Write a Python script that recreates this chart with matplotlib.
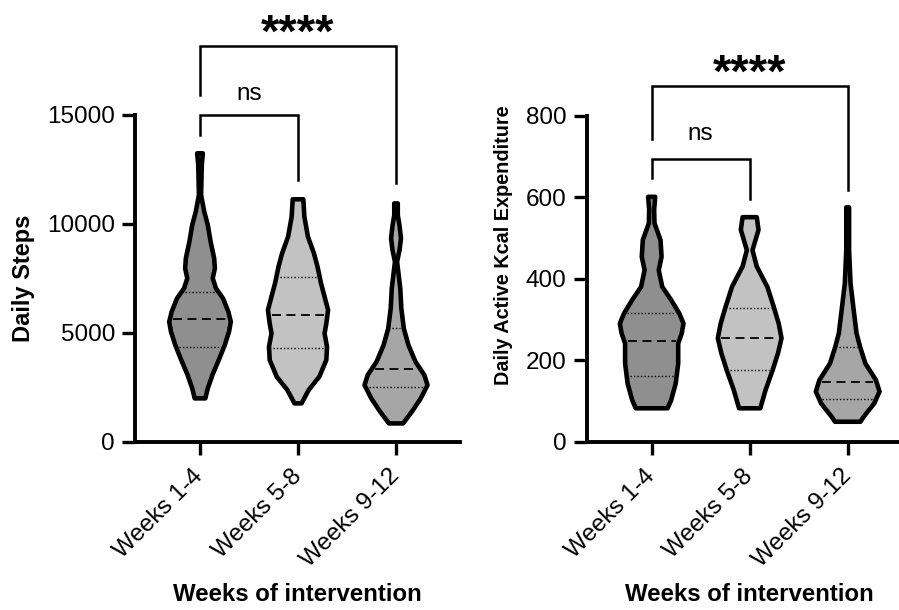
import matplotlib
matplotlib.use("Agg")
import matplotlib.pyplot as plt
import numpy as np

plt.rcParams['font.family'] = ['Liberation Sans', 'DejaVu Sans']

groups = ["Weeks 1-4", "Weeks 5-8", "Weeks 9-12"]
fills = ["#8f8f8f", "#c2c2c2", "#a6a6a6"]

# violin outlines: value levels and relative half widths
steps_lv1 = [1990, 2450, 3060, 3830, 4440, 5050, 5510, 5970, 6580, 7040, 7500, 7960, 8420, 9180, 9950, 10560, 11330, 12700, 13240]
steps_w1 = [15, 22, 35, 55, 70, 82, 87, 80, 65, 45, 36, 42, 40, 30, 22, 12, 3, 5, 8]
steps_lv2 = [1760, 1910, 2370, 2980, 3750, 4360, 4970, 5430, 6040, 6660, 7270, 8040, 8650, 9410, 10330, 11130]
steps_w2 = [10, 15, 30, 60, 80, 82, 75, 80, 85, 75, 65, 55, 45, 28, 18, 15]
steps_lv3 = [840, 1380, 1990, 2600, 3060, 3670, 4440, 5200, 6120, 7040, 8260, 8800, 9340, 9900, 10400, 10940]
steps_w3 = [20, 45, 70, 89, 80, 55, 35, 22, 15, 12, 3, 10, 14, 10, 5, 5]
steps_med = [5630, 5820, 3340]
steps_q1 = [4360, 4280, 2500]
steps_q3 = [6890, 7580, 5200]

kcal_lv1 = [82, 102, 143, 192, 241, 266, 290, 315, 348, 380, 421, 454, 495, 536, 569, 601]
kcal_w1 = [45, 55, 68, 75, 75, 85, 90, 78, 55, 30, 20, 28, 25, 8, 7, 10]
kcal_lv2 = [82, 127, 176, 217, 254, 290, 331, 380, 430, 470, 520, 551]
kcal_w2 = [30, 45, 65, 80, 90, 82, 68, 50, 20, 8, 25, 20]
kcal_lv3 = [49, 61, 94, 123, 151, 192, 233, 266, 323, 389, 470, 575]
kcal_w3 = [36, 45, 75, 90, 80, 50, 35, 25, 17, 8, 4, 4]
kcal_med = [248, 254, 147]
kcal_q1 = [162, 176, 106]
kcal_q3 = [315, 329, 233]

HW = 0.325 / 90.0


def violins(ax, levels, widths, med, q1, q3):
    for i, (lv, w) in enumerate(zip(levels, widths)):
        lv = np.array(lv, float)
        w = np.array(w, float) * HW
        xs = np.concatenate([i - w, (i + w)[::-1]])
        ys = np.concatenate([lv, lv[::-1]])
        ax.fill(xs, ys, facecolor=fills[i], edgecolor="black", lw=3.3,
                joinstyle="round", zorder=2)
        for val, ls, lw in [(med[i], (0, (5, 3)), 1.3), (q1[i], (0, (1, 1.5)), 1.0),
                            (q3[i], (0, (1, 1.5)), 1.0)]:
            h = np.interp(val, lv, w) - 0.035
            ax.plot([i - h, i + h], [val, val], color="black", ls=ls, lw=lw, zorder=3)


def bracket(ax, x0, x1, yl, yr, top, label, ty, size, weight):
    ax.plot([x0, x0, x1, x1], [yl, top, top, yr], color="black", lw=1.8,
            clip_on=False, solid_joinstyle="miter", zorder=4)
    ax.text((x0 + x1) / 2, ty, label, ha="center", va="center", fontsize=size,
            fontweight=weight, clip_on=False)


def style(ax, ymax, ticks):
    ax.set_xlim(-0.663, 2.653)
    ax.set_ylim(0, ymax)
    for s in ["top", "right"]:
        ax.spines[s].set_visible(False)
    for s in ["left", "bottom"]:
        ax.spines[s].set_linewidth(2.8)
    ax.set_yticks(ticks)
    ax.set_xticks(range(3))
    ax.set_xticklabels(groups, rotation=45, ha="right", va="center",
                       rotation_mode="anchor")
    ax.tick_params(axis="both", length=9.5, width=2.4, labelsize=17.5, pad=5)
    ax.tick_params(axis="x", pad=13)


fig = plt.figure(figsize=(8.99, 6.10), dpi=100)
ax1 = fig.add_axes([0.1502, 0.2759, 0.3615, 0.5356])
ax2 = fig.add_axes([0.6526, 0.2759, 0.3615, 0.5344])

violins(ax1, [steps_lv1, steps_lv2, steps_lv3], [steps_w1, steps_w2, steps_w3],
        steps_med, steps_q1, steps_q3)
style(ax1, 15000, [0, 5000, 10000, 15000])
bracket(ax1, 0, 1, 14080, 12000, 15000, "ns", 15950, 17.5, "normal")
bracket(ax1, 0, 2, 15920, 11860, 18180, "****", 18700, 34, "bold")

violins(ax2, [kcal_lv1, kcal_lv2, kcal_lv3], [kcal_w1, kcal_w2, kcal_w3],
        kcal_med, kcal_q1, kcal_q3)
style(ax2, 800, [0, 200, 400, 600, 800])
bracket(ax2, 0, 1, 646, 596, 695, "ns", 755, 17.5, "normal")
bracket(ax2, 0, 2, 742, 618, 873, "****", 900, 34, "bold")

fig.text(0.0256, 0.544, "Daily Steps", rotation=90, ha="center", va="center",
         fontsize=17, fontweight="bold")
fig.text(0.5606, 0.598, "Daily Active Kcal Expenditure", rotation=90, ha="center",
         va="center", fontsize=14.3, fontweight="bold")
fig.text(0.331, 0.006, "Weeks of intervention", ha="center", va="bottom",
         fontsize=17.3, fontweight="bold")
fig.text(0.834, 0.006, "Weeks of intervention", ha="center", va="bottom",
         fontsize=17.3, fontweight="bold")

fig.savefig("out.png", dpi=100)
